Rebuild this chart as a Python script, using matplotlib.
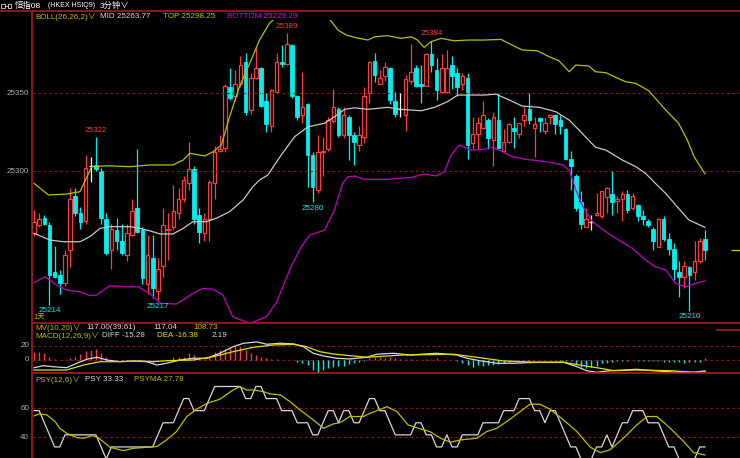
import matplotlib
matplotlib.use('Agg')
import matplotlib.pyplot as plt
from matplotlib.patches import Rectangle
from matplotlib.lines import Line2D

plt.rcParams['font.family'] = ['Liberation Sans', 'Noto Sans CJK SC', 'DejaVu Sans']

# 3 minute bars
opens = [25260, 25265, 25270, 25265, 25235, 25233, 25228, 25249, 25284, 25273,
         25268, 25303, 25304, 25300, 25269, 25249, 25262, 25255, 25246, 25259,
         25276, 25262, 25227, 25244, 25223, 25239, 25262, 25264, 25273, 25282,
         25292, 25301, 25272, 25260, 25269, 25292, 25313, 25315, 25354, 25348,
         25356, 25370, 25339, 25360, 25366, 25345, 25329, 25351, 25370, 25369,
         25381, 25348, 25336, 25343, 25310, 25288, 25312, 25314, 25332, 25340,
         25323, 25335, 25323, 25317, 25322, 25350, 25371, 25356, 25361, 25366,
         25345, 25340, 25336, 25358, 25366, 25356, 25355, 25375, 25365, 25351,
         25351, 25368, 25363, 25356, 25360, 25318, 25324, 25328, 25333, 25320,
         25333, 25313, 25319, 25328, 25324, 25333, 25340, 25328, 25334, 25326,
         25335, 25336, 25333, 25327, 25308, 25297, 25280, 25264, 25267, 25272,
         25271, 25283, 25285, 25281, 25282, 25285, 25276, 25278, 25271, 25268,
         25263, 25251, 25269, 25256, 25250, 25235, 25232, 25238, 25235, 25242, 25256]
highs = [25275, 25273, 25272, 25267, 25252, 25236, 25249, 25289, 25289, 25277,
         25310, 25309, 25322, 25302, 25273, 25266, 25270, 25266, 25266, 25282,
         25314, 25264, 25259, 25259, 25244, 25276, 25273, 25291, 25289, 25297,
         25319, 25303, 25276, 25273, 25294, 25316, 25323, 25356, 25366, 25365,
         25374, 25376, 25363, 25380, 25367, 25350, 25353, 25376, 25381, 25389,
         25382, 25349, 25364, 25344, 25312, 25323, 25322, 25335, 25353, 25341,
         25341, 25336, 25325, 25329, 25354, 25371, 25376, 25365, 25370, 25367,
         25351, 25350, 25362, 25382, 25368, 25368, 25376, 25384, 25373, 25375,
         25378, 25374, 25366, 25363, 25363, 25335, 25335, 25345, 25334, 25338,
         25350, 25327, 25331, 25335, 25331, 25341, 25350, 25335, 25335, 25335,
         25337, 25337, 25336, 25328, 25313, 25298, 25287, 25276, 25272, 25286,
         25287, 25290, 25300, 25284, 25287, 25288, 25286, 25279, 25275, 25269,
         25264, 25270, 25271, 25260, 25254, 25242, 25242, 25239, 25255, 25257, 25262]
lows = [25258, 25264, 25265, 25214, 25231, 25221, 25226, 25238, 25271, 25263,
        25266, 25293, 25300, 25266, 25246, 25237, 25249, 25246, 25242, 25258,
        25260, 25227, 25221, 25218, 25217, 25232, 25243, 25262, 25269, 25280,
        25288, 25266, 25254, 25255, 25255, 25282, 25312, 25312, 25346, 25345,
        25354, 25336, 25337, 25359, 25341, 25325, 25325, 25350, 25367, 25368,
        25347, 25333, 25331, 25290, 25280, 25286, 25297, 25313, 25331, 25322,
        25321, 25307, 25304, 25313, 25318, 25344, 25357, 25356, 25358, 25343,
        25335, 25335, 25326, 25356, 25354, 25344, 25355, 25364, 25346, 25350,
        25350, 25353, 25348, 25352, 25308, 25314, 25314, 25327, 25314, 25303,
        25314, 25312, 25318, 25315, 25321, 25329, 25330, 25309, 25325, 25324,
        25330, 25324, 25324, 25307, 25288, 25274, 25263, 25264, 25262, 25271,
        25270, 25273, 25272, 25273, 25268, 25273, 25275, 25268, 25265, 25264,
        25249, 25251, 25255, 25246, 25230, 25219, 25225, 25210, 25230, 25241, 25243]
closes = [25267, 25269, 25266, 25233, 25232, 25228, 25246, 25282, 25273, 25267,
          25302, 25303, 25301, 25270, 25247, 25263, 25255, 25247, 25260, 25274,
          25261, 25231, 25246, 25225, 25237, 25265, 25263, 25274, 25282, 25294,
          25301, 25269, 25261, 25269, 25293, 25312, 25314, 25355, 25347, 25356,
          25368, 25338, 25360, 25366, 25342, 25330, 25352, 25370, 25369, 25382,
          25348, 25335, 25341, 25310, 25290, 25312, 25313, 25333, 25341, 25323,
          25336, 25323, 25319, 25323, 25348, 25370, 25362, 25360, 25367, 25346,
          25337, 25340, 25359, 25364, 25355, 25355, 25375, 25368, 25352, 25366,
          25366, 25361, 25354, 25361, 25317, 25324, 25331, 25336, 25321, 25335,
          25315, 25319, 25330, 25326, 25331, 25336, 25333, 25330, 25332, 25331,
          25336, 25330, 25329, 25308, 25303, 25276, 25266, 25269, 25267, 25273,
          25287, 25289, 25280, 25282, 25285, 25275, 25284, 25271, 25269, 25265,
          25255, 25269, 25256, 25250, 25237, 25232, 25239, 25233, 25242, 25255, 25249]

# BOLL(26,26,2) lines, read at their corners (bar index, price)
top_idx = [0, 2.8, 6.3, 8.9, 11.2, 14.1, 18.6, 22.4, 26.9, 28.9, 30.2, 33.1, 34.7, 36.3,
           37.9, 39.8, 41.8, 43.7, 45.6, 50.6, 57.4, 58.9, 60.5, 62.1, 64.7, 66, 68.5,
           71.1, 73.1, 74.3, 75.6, 76.9, 78.9, 81.4, 84, 87.2, 90.5, 92.6, 94.6, 97.5,
           99.8, 101.7, 103.7, 105, 107.5, 108.8, 110.8, 112.7, 114.6, 116.6, 119.1,
           120.4, 122.4, 124.9, 126.6, 127.9, 130]
top_band = [25292.1, 25284.6, 25285.2, 25286.7, 25302.8, 25303.4, 25302.8, 25303.9, 25303.9,
            25307.1, 25311.4, 25309.7, 25312.4, 25316.7, 25334.9, 25354.2, 25369.3, 25384.3,
            25395.0, 25410.0, 25397.2, 25390.7, 25387.5, 25386.0, 25384.3, 25386.4, 25387.1,
            25385.4, 25386.4, 25384.3, 25379.6, 25383.2, 25385.4, 25383.8, 25384.3, 25384.3,
            25384.7, 25381.1, 25377.9, 25377.4, 25373.6, 25371.0, 25363.9, 25368.2, 25367.6,
            25363.9, 25363.3, 25360.3, 25357.5, 25356.4, 25351.7, 25346.8, 25339.3, 25330.7,
            25319.9, 25309.2, 25298.25]
mid_idx = [0, 3.1, 5.7, 8.9, 10.8, 12.8, 14.7, 18.6, 20.5, 22.4, 24.4, 26.9, 28.9, 30.8,
           33.4, 35.3, 37.9, 40.5, 42.4, 43.7, 45.3, 47.9, 50.5, 53.1, 56.3, 58.2, 60.2,
           62.1, 64.7, 68.5, 71.1, 75, 77.6, 80.1, 82.1, 87.2, 89.5, 92.1, 94.6, 97.9,
           101.1, 103.7, 105.6, 108.8, 110.8, 114, 116.6, 118.5, 120.4, 122.4, 124.9,
           126.9, 130]
mid_band = [25259.9, 25255.6, 25254.5, 25254.5, 25257.7, 25263.1, 25264.2, 25264.2, 25263.1,
            25261.6, 25259.5, 25259.5, 25263.1, 25267.4, 25267.4, 25269.6, 25273.8, 25281.3,
            25289.9, 25294.2, 25297.4, 25310.3, 25322.1, 25328.5, 25330.7, 25334.9, 25339.7,
            25340.7, 25339.7, 25341.0, 25339.7, 25338.8, 25341.0, 25344.6, 25348.9, 25348.9,
            25349.5, 25345.7, 25341.8, 25341.0, 25338.2, 25332.8, 25326.4, 25315.3, 25313.5,
            25307.1, 25302.8, 25298.5, 25292.1, 25285.6, 25276.0, 25268.5, 25263.77]
bot_idx = [0, 2.1, 4.4, 6.3, 8.9, 10.8, 12.1, 14.7, 17.9, 20.2, 22.4, 24.4, 27.6, 30.8,
           32.7, 34.7, 36.6, 38.5, 41.8, 45, 46.9, 49.8, 51.8, 53.4, 56.3, 58.2, 59.8,
           60.8, 62.1, 64, 68.5, 73.1, 75.6, 77.9, 79.5, 80.8, 82.4, 84.7, 87.2, 88.8,
           90.8, 92.7, 95.3, 97.9, 100.4, 102.4, 103.7, 105, 106.2, 108.2, 110.8, 113.3,
           115.9, 118.5, 120.4, 122.4, 124.3, 126.2, 128.2, 130]
bot_band = [25228.1, 25232.0, 25226.6, 25223.4, 25222.3, 25219.8, 25220.2, 25226.2, 25225.5,
            25225.5, 25221.3, 25214.9, 25214.4, 25221.3, 25224.5, 25223.9, 25220.2, 25206.2,
            25201.9, 25206.2, 25214.9, 25238.4, 25251.3, 25258.8, 25262.0, 25274.9, 25292.1,
            25296.3, 25296.8, 25294.7, 25294.7, 25295.9, 25298.1, 25296.8, 25299.5, 25310.3,
            25316.7, 25313.5, 25314.0, 25315.3, 25312.4, 25309.2, 25307.5, 25306.6, 25305.3,
            25303.9, 25300.6, 25287.8, 25278.1, 25267.4, 25260.9, 25255.6, 25250.3, 25242.7,
            25238.4, 25236.3, 25227.7, 25225.5, 25227.7, 25229.29]

# MACD(12,26,9)
macd_hist = [10.7, 10.7, 9.3, 3.7, 1.0, 0.5, 0.5, 2.3, 4.7, 8.4,
             13.0, 14.0, 14.9, 10.0, 4.7, 0.5, -0.5, -0.8, -1.4, -0.5,
             -0.5, -1.4, -2.3, -2.3, -1.4, -0.5, 0.5, 4.7, 3.7, 4.7,
             9.3, 7.0, 3.7, 1.0, 3.7, 11.7, 14.0, 15.4, 17.2, 20.0,
             18.6, 14.0, 9.3, 7.0, 3.7, 2.3, 1.9, 1.4, 0.5, 0.3,
             -0.5, -2.3, -3.7, -7.0, -14.0, -17.7, -14.0, -11.7, -9.3, -7.9,
             -7.9, -5.6, -4.7, -2.3, -1.0, 2.3, 3.7, 3.7, 2.3, 3.7,
             2.3, 1.4, 1.4, 1.0, -0.5, 0.5, 1.0, 1.4, 2.3, 0.5,
             0.5, -0.5, -1.4, -4.0, -7.0, -9.3, -7.0, -7.9, -7.0, -7.0,
             -5.6, -3.7, -2.3, -1.4, -1.0, -1.0, -0.8, -0.5, 0.5, 0.5,
             -0.5, -0.5, -1.0, -1.0, -1.4, -6.0, -9.3, -10.7, -9.3, -8.4,
             -4.7, -3.7, -2.3, -1.4, -1.0, -0.8, -0.5, -1.0, -1.4, -1.4,
             -1.4, -1.4, -2.3, -2.3, -3.3, -3.3, -3.7, -3.3, -3.3, -2.3, 2.19]
diff_idx = [0, 1.8, 3.7, 6.3, 8.3, 10.2, 12.2, 14.1, 16.7, 19.2, 21.8, 23.8, 25.7, 28.3,
            30.9, 33.5, 36, 38.6, 40.6, 43.2, 45.1, 47.7, 50.3, 52.2, 54.1, 56.1, 58.7,
            61.2, 64.5, 66.4, 69.6, 72.9, 78, 81.9, 83.9, 86.4, 89.7, 92.9, 97.4, 102.6,
            105.2, 107.1, 109, 111.6, 116.8, 120, 124.6, 127.8, 130]
diff_line = [-10.8, -8.0, -9.4, -10.8, -4.6, 1.0, 3.8, 0.0, -2.4, -1.4, -2.4, -7.0, -4.6,
             0.0, 2.4, 2.4, 9.4, 18.6, 23.4, 25.2, 22.0, 23.4, 22.4, 18.6, 9.4, 5.6, 2.4,
             1.4, 3.8, 8.0, 9.4, 7.0, 9.4, 7.0, 2.4, -1.0, -4.6, -4.6, -3.2, -3.2, -9.4,
             -15.0, -17.2, -15.0, -13.0, -15.0, -17.2, -17.2, -15.28]
dea_idx = [0, 6.3, 9.6, 12.8, 16, 20.5, 23.1, 25.7, 30.9, 34.7, 38.6, 42.5, 46.4, 50.3,
           52.8, 55.4, 58, 61.2, 64.5, 71.6, 81.3, 86.4, 91, 97.4, 102.6, 106.5, 109.7,
           112.3, 116.8, 123.3, 127.8, 130]
dea_line = [-14.0, -14.0, -7.0, -2.4, -2.4, -1.4, -2.4, -1.0, 0.0, 4.6, 11.6, 17.8, 21.0,
            22.0, 18.6, 11.6, 8.4, 6.0, 3.8, 7.0, 8.0, 3.2, -1.4, -3.2, -3.2, -8.0, -11.6,
            -15.0, -14.0, -15.0, -17.2, -16.38]

# PSY(12,6)
psy = [58.33, 58.33, 50, 41.67, 33.33, 33.33, 41.67, 41.67, 41.67, 41.67,
       41.67, 41.67, 41.67, 33.33, 25, 33.33, 33.33, 33.33, 33.33, 33.33,
       33.33, 33.33, 33.33, 33.33, 41.67, 50, 50, 50, 58.33, 66.67,
       66.67, 58.33, 58.33, 58.33, 66.67, 75, 75, 75, 75, 75,
       75, 66.67, 66.67, 75, 75, 66.67, 66.67, 66.67, 58.33, 58.33,
       58.33, 50, 50, 50, 41.67, 41.67, 50, 58.33, 58.33, 50,
       58.33, 58.33, 50, 50, 58.33, 66.67, 66.67, 58.33, 58.33, 50,
       41.67, 41.67, 41.67, 41.67, 50, 50, 41.67, 41.67, 33.33, 33.33,
       41.67, 33.33, 33.33, 41.67, 41.67, 41.67, 41.67, 50, 50, 50,
       50, 58.33, 58.33, 58.33, 66.67, 66.67, 66.67, 58.33, 58.33, 50,
       58.33, 58.33, 50, 41.67, 33.33, 33.33, 25, 25, 25, 33.33,
       33.33, 41.67, 33.33, 41.67, 50, 50, 58.33, 58.33, 58.33, 50,
       50, 50, 41.67, 33.33, 33.33, 25, 25, 25, 25, 33.33, 33.33]
psyma_idx = [0, 1, 2.5, 4.1, 5, 6.3, 8.3, 9.6, 11.2, 12.1, 13.4, 14.7, 17.3, 19.3, 21.8,
             23.8, 25.7, 27.6, 29.6, 31.5, 33.5, 36, 38.6, 39.9, 41.2, 42.5, 44.4, 45.7,
             47.7, 49.6, 51.5, 54.1, 56.1, 58, 59.3, 61.2, 63.8, 65.1, 68.4, 70.3, 72.5,
             74.5, 76.7, 78.8, 80.7, 82.7, 85.8, 87.7, 89.7, 92.2, 94.8, 96.1, 98, 100,
             102.6, 105.2, 107.8, 109.7, 111.6, 114.2, 116.8, 118.8, 120.7, 123.3, 125.9,
             127.8, 130]
psyma = [54.7, 56.1, 55.4, 50.8, 46.2, 42.8, 39.8, 39.3, 41.1, 40.5, 37.0, 33.1, 30.8, 32.4,
         33.1, 33.6, 38.2, 43.9, 54.3, 59.3, 63.4, 66.2, 72.6, 74.9, 72.6, 72.6, 71.5, 69.9,
         69.2, 64.6, 58.9, 52.0, 46.2, 49.2, 50.1, 54.3, 54.3, 56.5, 61.1, 57.7, 48.5, 46.2,
         43.9, 39.3, 36.6, 38.2, 39.3, 43.9, 46.2, 52.4, 59.3, 62.8, 62.8, 59.3, 52.0, 43.9,
         33.1, 29.4, 31.3, 39.3, 48.5, 54.3, 54.3, 46.2, 37.0, 29.4, 27.78]

main_ticks = [25350, 25300]
macd_ticks = [20, 0]
psy_ticks = [60, 40]
high_marks = [12, 49, 77]
low_marks = [3, 24, 54, 127]

RED = '#ff3c3c'
CYAN = '#00f0f0'
GRID = '#8a1515'
FRAME = '#a81c1c'
OLIVE = '#bebe00'
YEL = '#e0e000'
WHITE = '#d8d8d8'
MAG = '#e000e0'
TICK = '#b0b0b0'
FS = 5.8

W, H = 740, 458
LEFT = 32
fig = plt.figure(figsize=(W / 100, H / 100), dpi=100, facecolor='black')


def make_axes(top, bottom, lo, hi):
    a = fig.add_axes([LEFT / W, 1 - bottom / H, (W - LEFT) / W, (bottom - top) / H])
    a.set_xlim(-0.39, 136.8)
    a.set_ylim(lo, hi)
    a.set_axis_off()
    return a


def ftext(x, y, s, color, size=FS, ha='left'):
    fig.text(x / W, 1 - y / H, s, color=color, fontsize=size, ha=ha, va='center')


def fline(xs, ys, color, lw=1.0):
    fig.add_artist(Line2D([x / W for x in xs], [1 - y / H for y in ys], color=color, lw=lw))


ax = make_axes(20, 323, 25202.2, 25397.2)
ax_macd = make_axes(323, 373, -18.2, 51.7)
ax_psy = make_axes(373, 458, 25.7, 84.3)

dash = (0, (2.5, 2.5))
for a, ticks in [(ax, main_ticks), (ax_macd, macd_ticks), (ax_psy, psy_ticks)]:
    for t in ticks:
        a.axhline(t, color=GRID, lw=0.8, linestyle=dash)
        a.text(-0.004, t, str(t), transform=a.get_yaxis_transform(), ha='right',
               va='center', color=TICK, fontsize=FS)

# candles
for i in range(len(opens)):
    o, h, l, c = opens[i], highs[i], lows[i], closes[i]
    if c > o:
        ax.add_patch(Rectangle((i - 0.35, o), 0.7, c - o, fill=False, edgecolor=RED, lw=0.9))
        ax.vlines(i, c, h, color=RED, lw=0.9)
        ax.vlines(i, l, o, color=RED, lw=0.9)
    elif c < o:
        ax.vlines(i, l, h, color=CYAN, lw=0.9)
        ax.add_patch(Rectangle((i - 0.35, c), 0.7, o - c, facecolor=CYAN, edgecolor=CYAN, lw=0.6))
    else:
        ax.vlines(i, l, h, color='white', lw=0.9)
        ax.hlines(o, i - 0.4, i + 0.4, color='white', lw=0.9)

ax.plot(top_idx, top_band, color=OLIVE, lw=0.9)
ax.plot(mid_idx, mid_band, color='#c8c8c8', lw=0.9)
ax.plot(bot_idx, bot_band, color='#c000c0', lw=0.9)

for i in high_marks:
    ax.annotate(str(highs[i]), (i, highs[i]), xytext=(0, 4.8), textcoords='offset points',
                ha='center', va='center', color=RED, fontsize=FS)
for i in low_marks:
    ax.annotate(str(lows[i]), (i, lows[i]), xytext=(0, -4.4), textcoords='offset points',
                ha='center', va='center', color=CYAN, fontsize=FS)

# last price marker on the right
ax.hlines(closes[-1], 135.1, 136.8, color=OLIVE, lw=1.0)

# MACD panel
for i, v in enumerate(macd_hist):
    ax_macd.vlines(i, 0, v, color=RED if v > 0 else CYAN, lw=1.0)
ax_macd.plot(diff_idx, diff_line, color=WHITE, lw=0.9)
ax_macd.plot(dea_idx, dea_line, color=YEL, lw=0.9)

# PSY panel
ax_psy.plot(range(len(psy)), psy, color=WHITE, lw=0.9)
ax_psy.plot(psyma_idx, psyma, color=OLIVE, lw=0.9)

# frame lines
fline([0, W], [11, 11], FRAME, 1.2)
fline([LEFT, LEFT], [11, H], FRAME, 1.2)
fline([LEFT, W], [323, 323], FRAME, 1.2)
fline([LEFT, W], [373, 373], FRAME, 1.2)
fline([717, W], [330, 330], FRAME, 1.2)

# header
fig.add_artist(Rectangle((1 / W, 1 - 8 / H), 3.5 / W, 4 / H, fill=False, edgecolor=WHITE, lw=0.6))
fig.add_artist(Rectangle((7.5 / W, 1 - 8 / H), 3.5 / W, 4 / H, fill=False, edgecolor=WHITE, lw=0.6))
fline([4.5, 7.5], [6, 6], WHITE, 0.6)
ftext(15, 5.5, '恒指08', 'white', 6)
ftext(48, 5.5, '(HKEX HSIQ9)', 'white', 5)
ftext(100, 5.5, '3分钟∨', 'white', 6)

# legends
ftext(35, 16.5, 'BOLL(26,26,2)∨', OLIVE)
ftext(100, 16.5, 'MID %.2f' % mid_band[-1], WHITE)
ftext(163, 16.5, 'TOP %.2f' % top_band[-1], OLIVE)
ftext(227, 16.5, 'BOTTOM %.2f' % bot_band[-1], MAG)
ftext(33, 318.5, '1天', OLIVE, 5.5)

ftext(35, 327.5, 'MV(10,20)∨', OLIVE)
ftext(86, 327.5, '117.00(39:61)', WHITE)
ftext(153, 327.5, '117.04', WHITE)
ftext(193, 327.5, '108.73', OLIVE)
ftext(35, 335.5, 'MACD(12,26,9)∨', OLIVE)
ftext(102, 335.5, 'DIFF %.2f' % diff_line[-1], WHITE)
ftext(157, 335.5, 'DEA %.2f' % dea_line[-1], YEL)
ftext(212, 335.5, '%.2f' % macd_hist[-1], WHITE)

ftext(35, 379.7, 'PSY(12,6)∨', OLIVE)
ftext(85, 379.7, 'PSY %.2f' % psy[-1], WHITE)
ftext(134, 379.7, 'PSYMA %.2f' % psyma[-1], OLIVE)

fig.savefig('out.png', dpi=100, facecolor='black')
